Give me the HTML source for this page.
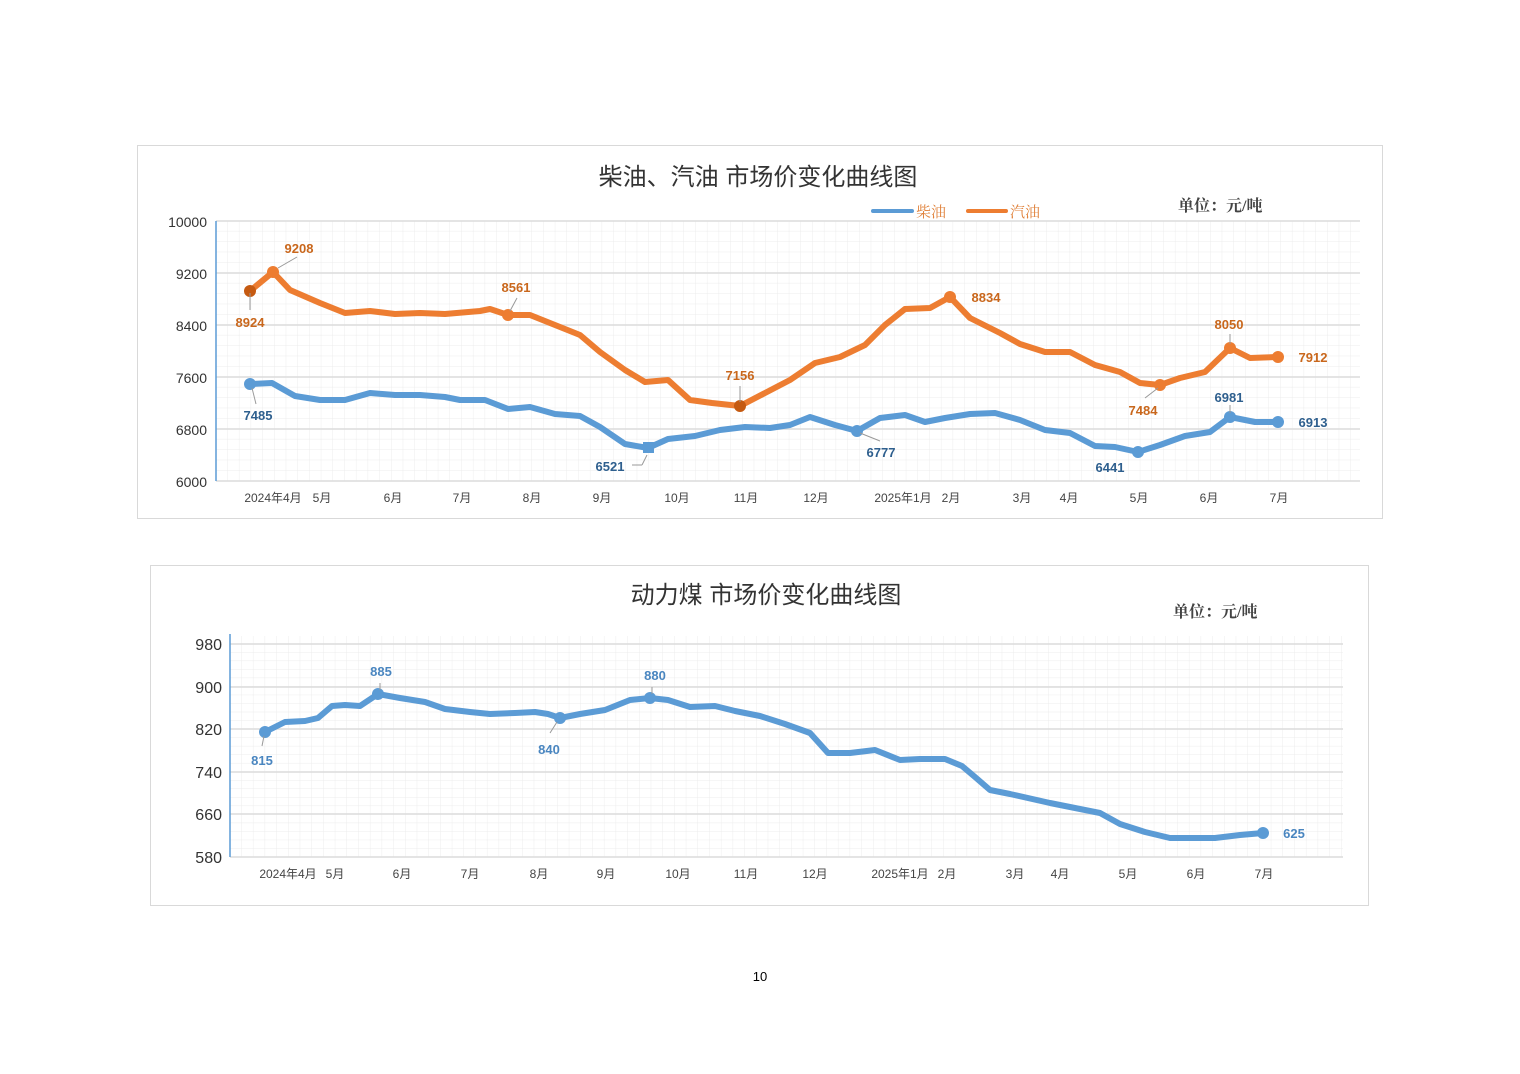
<!DOCTYPE html>
<html><head><meta charset="utf-8"><style>
body{margin:0;background:#fff;}
svg{display:block;font-family:"Liberation Sans","Noto Sans CJK SC",sans-serif;}
</style></head><body>
<svg width="1520" height="1074" viewBox="0 0 1520 1074" xmlns="http://www.w3.org/2000/svg">
<defs>
<pattern id="g1" x="216" y="221" width="11.7" height="10.4" patternUnits="userSpaceOnUse">
<path d="M11.7 0V10.4M0 10.4H11.7" stroke="#ececec" stroke-width="1" fill="none"/></pattern>
<pattern id="g2" x="230" y="644" width="11.7" height="8.53" patternUnits="userSpaceOnUse">
<path d="M11.7 0V8.53M0 8.53H11.7" stroke="#ececec" stroke-width="1" fill="none"/></pattern>
</defs>
<rect width="1520" height="1074" fill="#fff"/>
<!-- TOP CHART -->
<rect x="137.5" y="145.5" width="1245" height="373" fill="#fff" stroke="#d9d9d9"/>
<text x="758" y="185" font-size="24" text-anchor="middle" fill="#333">柴油、汽油 市场价变化曲线图</text>
<line x1="873" y1="211" x2="912" y2="211" stroke="#5b9bd5" stroke-width="4" stroke-linecap="round"/>
<text x="916" y="217" font-size="15" fill="#e0813a" font-family="Liberation Serif,Noto Serif CJK SC,serif">柴油</text>
<line x1="968" y1="211" x2="1006" y2="211" stroke="#ed7d31" stroke-width="4" stroke-linecap="round"/>
<text x="1010" y="217" font-size="15" fill="#e0813a" font-family="Liberation Serif,Noto Serif CJK SC,serif">汽油</text>
<text x="1178" y="211" font-size="16" fill="#444" font-weight="bold" font-family="Liberation Serif,Noto Serif CJK SC,serif">单位：元/吨</text>
<rect x="216" y="221" width="1144" height="260" fill="url(#g1)"/>
<g stroke="#dcdcdc" stroke-width="1.5">
<line x1="216" y1="221" x2="1360" y2="221"/><line x1="216" y1="273" x2="1360" y2="273"/><line x1="216" y1="325" x2="1360" y2="325"/><line x1="216" y1="377" x2="1360" y2="377"/><line x1="216" y1="429" x2="1360" y2="429"/><line x1="216" y1="481" x2="1360" y2="481"/>
</g>
<line x1="216" y1="221" x2="216" y2="481" stroke="#5b9bd5" stroke-width="1.5"/>
<g font-size="14" fill="#333" text-anchor="end">
<text x="207" y="227">10000</text><text x="207" y="279">9200</text><text x="207" y="331">8400</text><text x="207" y="383">7600</text><text x="207" y="435">6800</text><text x="207" y="487">6000</text>
</g>
<g font-size="12" fill="#444" text-anchor="middle">
<text x="273" y="502">2024年4月</text><text x="322" y="502">5月</text><text x="393" y="502">6月</text><text x="462" y="502">7月</text><text x="532" y="502">8月</text><text x="602" y="502">9月</text><text x="677" y="502">10月</text><text x="746" y="502">11月</text><text x="816" y="502">12月</text><text x="903" y="502">2025年1月</text><text x="951" y="502">2月</text><text x="1022" y="502">3月</text><text x="1069" y="502">4月</text><text x="1139" y="502">5月</text><text x="1209" y="502">6月</text><text x="1279" y="502">7月</text>
</g>
<polyline fill="none" stroke="#ed7d31" stroke-width="6" stroke-linejoin="round" stroke-linecap="round" points="250,291 273,272 290,290 320,303 345,313 370,311 395,314 420,313 445,314 480,311 490,309 508,315 530,315 555,325 580,335 600,352 625,370 645,382 668,380 690,400 712,403 740,406 765,393 790,380 815,363 840,357 865,345 885,325 905,309 930,308 950,297 970,318 1000,333 1020,344 1045,352 1070,352 1095,365 1120,372 1140,383 1160,385 1180,378 1205,372 1230,348 1250,358 1278,357"/>
<polyline fill="none" stroke="#5b9bd5" stroke-width="6" stroke-linejoin="round" stroke-linecap="round" points="250,384 272,383 295,396 320,400 345,400 370,393 395,395 420,395 445,397 460,400 485,400 508,409 530,407 555,414 580,416 600,427 625,444 648,448 668,439 695,436 720,430 745,427 770,428 790,425 810,417 835,425 857,431 880,418 905,415 925,422 945,418 970,414 995,413 1020,420 1045,430 1070,433 1095,446 1115,447 1138,452 1160,445 1185,436 1210,432 1230,417 1255,422 1278,422"/>
<g fill="#c55a11"><circle cx="250" cy="291" r="6"/><circle cx="740" cy="406" r="6"/></g>
<g fill="#ed7d31"><circle cx="273" cy="272" r="6"/><circle cx="508" cy="315" r="6"/><circle cx="950" cy="297" r="6"/><circle cx="1160" cy="385" r="6"/><circle cx="1230" cy="348" r="6"/><circle cx="1278" cy="357" r="6"/></g>
<g fill="#5b9bd5"><circle cx="250" cy="384" r="6"/><rect x="643" y="442" width="11" height="11"/><circle cx="857" cy="431" r="6"/><circle cx="1138" cy="452" r="6"/><circle cx="1230" cy="417" r="6"/><circle cx="1278" cy="422" r="6"/></g>
<g stroke="#999" stroke-width="1"><line x1="250" y1="293" x2="250" y2="310"/><line x1="278" y1="268" x2="297" y2="257"/><line x1="510" y1="311" x2="517" y2="298"/><line x1="740" y1="402" x2="740" y2="386"/><line x1="252" y1="388" x2="256" y2="404"/><line x1="632" y1="465" x2="642" y2="465"/><line x1="642" y1="465" x2="647" y2="455"/><line x1="860" y1="433" x2="880" y2="441"/><line x1="1158" y1="388" x2="1145" y2="398"/><line x1="1230" y1="344" x2="1230" y2="334"/><line x1="1230" y1="413" x2="1230" y2="405"/></g>
<g font-size="13" font-weight="bold" fill="#c9671c" text-anchor="middle">
<text x="250" y="327">8924</text><text x="299" y="253">9208</text><text x="516" y="292">8561</text><text x="740" y="380">7156</text><text x="986" y="302">8834</text><text x="1143" y="415">7484</text><text x="1229" y="329">8050</text><text x="1313" y="362">7912</text>
</g>
<g font-size="13" font-weight="bold" fill="#2e5f8e" text-anchor="middle">
<text x="258" y="420">7485</text><text x="610" y="471">6521</text><text x="881" y="457">6777</text><text x="1110" y="472">6441</text><text x="1229" y="402">6981</text><text x="1313" y="427">6913</text>
</g>
<!-- BOTTOM CHART -->
<rect x="150.5" y="565.5" width="1218" height="340" fill="#fff" stroke="#d9d9d9"/>
<text x="766" y="603" font-size="24" text-anchor="middle" fill="#333">动力煤 市场价变化曲线图</text>
<text x="1173" y="617" font-size="16" fill="#444" font-weight="bold" font-family="Liberation Serif,Noto Serif CJK SC,serif">单位：元/吨</text>
<rect x="230" y="636" width="1113" height="221" fill="url(#g2)"/>
<g stroke="#dcdcdc" stroke-width="1.5">
<line x1="230" y1="644" x2="1343" y2="644"/><line x1="230" y1="687" x2="1343" y2="687"/><line x1="230" y1="729" x2="1343" y2="729"/><line x1="230" y1="772" x2="1343" y2="772"/><line x1="230" y1="814" x2="1343" y2="814"/><line x1="230" y1="857" x2="1343" y2="857"/>
</g>
<line x1="230" y1="634" x2="230" y2="857" stroke="#5b9bd5" stroke-width="1.5"/>
<g font-size="16" fill="#333" text-anchor="end">
<text x="222" y="650">980</text><text x="222" y="693">900</text><text x="222" y="735">820</text><text x="222" y="778">740</text><text x="222" y="820">660</text><text x="222" y="863">580</text>
</g>
<g font-size="12" fill="#444" text-anchor="middle">
<text x="288" y="878">2024年4月</text><text x="335" y="878">5月</text><text x="402" y="878">6月</text><text x="470" y="878">7月</text><text x="539" y="878">8月</text><text x="606" y="878">9月</text><text x="678" y="878">10月</text><text x="746" y="878">11月</text><text x="815" y="878">12月</text><text x="900" y="878">2025年1月</text><text x="947" y="878">2月</text><text x="1015" y="878">3月</text><text x="1060" y="878">4月</text><text x="1128" y="878">5月</text><text x="1196" y="878">6月</text><text x="1264" y="878">7月</text>
</g>
<polyline fill="none" stroke="#5b9bd5" stroke-width="6" stroke-linejoin="round" stroke-linecap="round" points="265,732 285,722 305,721 318,718 332,706 345,705 360,706 378,694 400,698 425,702 445,709 470,712 490,714 515,713 535,712 548,714 560,718 580,714 605,710 630,700 650,698 668,700 690,707 715,706 735,711 760,716 785,724 810,733 828,753 850,753 875,750 900,760 920,759 945,759 962,766 975,777 990,790 1010,794 1050,803 1075,808 1100,813 1120,824 1145,832 1170,838 1215,838 1240,835 1263,833"/>
<g fill="#5b9bd5"><circle cx="265" cy="732" r="6"/><circle cx="378" cy="694" r="6"/><circle cx="560" cy="718" r="6"/><circle cx="650" cy="698" r="6"/><circle cx="1263" cy="833" r="6"/></g>
<g stroke="#999" stroke-width="1"><line x1="264" y1="736" x2="262" y2="746"/><line x1="380" y1="690" x2="380" y2="683"/><line x1="557" y1="722" x2="550" y2="733"/><line x1="652" y1="694" x2="652" y2="687"/></g>
<g font-size="13" font-weight="bold" fill="#4a86c0" text-anchor="middle">
<text x="262" y="765">815</text><text x="381" y="676">885</text><text x="549" y="754">840</text><text x="655" y="680">880</text><text x="1294" y="838">625</text>
</g>
<text x="760" y="981" font-size="13" text-anchor="middle" fill="#000">10</text>
</svg>
</body></html>
